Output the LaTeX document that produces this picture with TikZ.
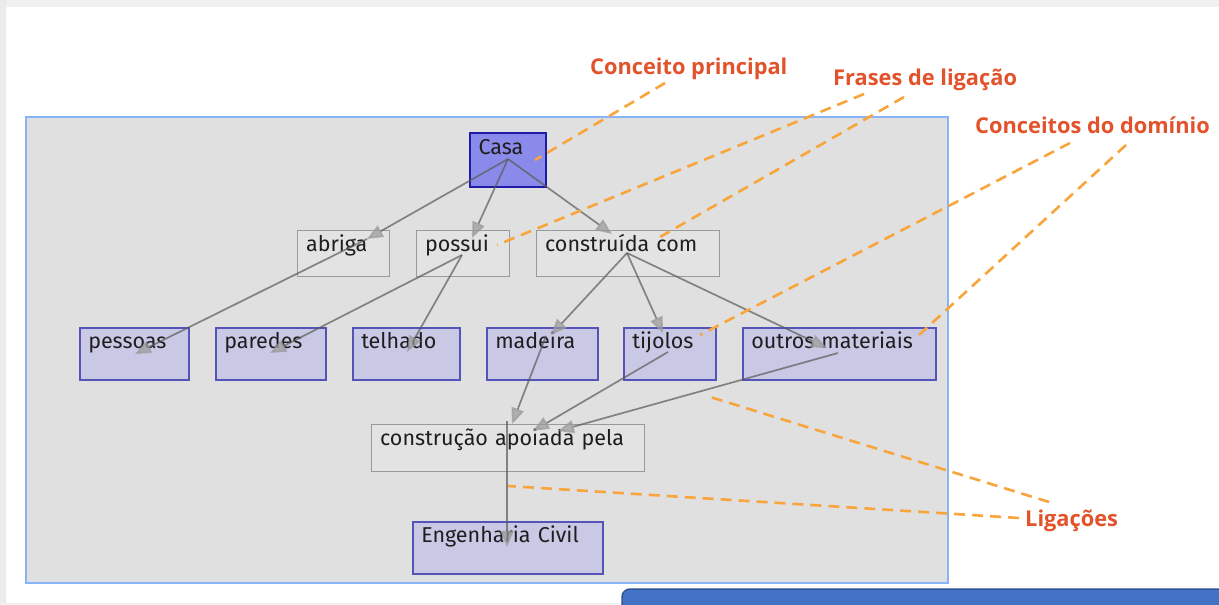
\documentclass[tikz,border=0pt]{standalone}
\usepackage{fontspec}
\usetikzlibrary{arrows.meta,calc}
\newfontfamily\nodefont{Fira Sans}
\newfontfamily\lblfont{Open Sans}
\definecolor{panelfill}{HTML}{E0E0E0}
\definecolor{panelborder}{HTML}{8AB4F8}
\definecolor{mainfill}{HTML}{8A8AEA}
\definecolor{mainborder}{HTML}{1C1CA8}
\definecolor{concfill}{HTML}{C9C9E6}
\definecolor{concborder}{HTML}{5454B8}
\definecolor{linkborder}{HTML}{9A9A9A}
\definecolor{linkfill}{HTML}{E3E3E3}
\definecolor{textcol}{HTML}{1E1E1E}
\definecolor{linecol}{HTML}{5A5A5A}
\definecolor{tipcol}{HTML}{9A9A9A}
\definecolor{orangedash}{HTML}{F8A53C}
\definecolor{lblcol}{HTML}{E2522B}
\definecolor{bluebar}{HTML}{4472C4}
\definecolor{bluebarborder}{HTML}{2F5597}
\tikzset{
  base/.style={anchor=north west, inner xsep=8.5pt, inner ysep=0pt, align=left,
    font=\nodefont\fontsize{21.5}{24}\selectfont, text=textcol, text height=21pt},
  mainbox/.style={base, draw=mainborder, fill=mainfill, line width=2pt},
  concbox/.style={base, draw=concborder, fill=concfill, line width=1.5pt},
  linkbox/.style={base, draw=linkborder, fill=linkfill, line width=1.2pt},
  conn/.style={draw=linecol, line width=1.7pt, opacity=0.7,
    -{Triangle[length=16pt,width=13pt,fill=tipcol,color=tipcol]}},
  callout/.style={draw=orangedash, line width=2.6pt, dash pattern=on 11pt off 7pt},
  lbl/.style={anchor=base west, inner sep=0pt, text=lblcol,
    font=\lblfont\bfseries\fontsize{21.8}{25}\selectfont},
}
\begin{document}
\begin{tikzpicture}[x=1pt,y=-1pt]
\useasboundingbox (0,0) rectangle (1219,605);
% page background
\fill[white] (0,0) rectangle (1219,605);
\fill[black!6] (0,0) rectangle (1219,7);
\fill[black!8] (0,0) rectangle (6,605);
\fill[black!5] (0,603) rectangle (1219,605);
% panel
\draw[fill=panelfill, draw=panelborder, line width=1.5pt] (26,117) rectangle (948,583);
% blue bar
\draw[fill=bluebar, draw=bluebarborder, line width=1.5pt, rounded corners=8pt]
  (622,589) rectangle (1235,630);

% nodes
\node[mainbox, text width=59pt, text depth=33pt] (casa) at (469,132) {Casa};
\node[linkbox, text width=75pt, text depth=25pt] (abriga) at (297,230) {abriga};
\node[linkbox, text width=76pt, text depth=25pt] (possui) at (416,230) {possui};
\node[linkbox, text width=166pt, text depth=25pt] (constr) at (536,230) {construída com};
\node[concbox, text width=92pt, text depth=31pt] (pessoas) at (79,327) {pessoas};
\node[concbox, text width=93pt, text depth=31pt] (paredes) at (215,327) {paredes};
\node[concbox, text width=90pt, text depth=31pt] (telhado) at (352,327) {telhado};
\node[concbox, text width=94pt, text depth=31pt] (madeira) at (486,327) {madeira};
\node[concbox, text width=75pt, text depth=31pt] (tijolos) at (623,327) {tijolos};
\node[concbox, text width=176pt, text depth=31pt] (outros) at (742,327) {outros materiais};
\node[linkbox, text width=256pt, text depth=26pt] (apoiada) at (371,424) {construção apoiada pela};
\node[concbox, text width=173pt, text depth=31pt] (eng) at (412,521) {Engenharia Civil};

% anchor points of the connections
\coordinate (pCasa) at ($(casa.north west)+(39,27)$);
\coordinate (pAbriga) at ($(abriga.north west)+(70,9)$);
\coordinate (pPossuiIn) at ($(possui.north west)+(56,8)$);
\coordinate (pPossui) at ($(possui.north west)+(46,25)$);
\coordinate (pConstrIn) at ($(constr.north west)+(76,4)$);
\coordinate (pConstr) at ($(constr.north west)+(91,23)$);
\coordinate (pPessoas) at ($(pessoas.north west)+(56,27)$);
\coordinate (pParedes) at ($(paredes.north west)+(55,26)$);
\coordinate (pTelhado) at ($(telhado.north west)+(55,25)$);
\coordinate (pMadeiraIn) at ($(madeira.north west)+(65,8)$);
\coordinate (pMadeira) at ($(madeira.north west)+(60,9)$);
\coordinate (pTijolosIn) at ($(tijolos.north west)+(40,6)$);
\coordinate (pTijolos) at ($(tijolos.north west)+(45,25)$);
\coordinate (pOutrosIn) at ($(outros.north west)+(85,21)$);
\coordinate (pOutros) at ($(outros.north west)+(96,26)$);
\coordinate (pApoiadaA) at ($(apoiada.north west)+(141,0)$);
\coordinate (pApoiadaB) at ($(apoiada.north west)+(162,7)$);
\coordinate (pApoiadaC) at ($(apoiada.north west)+(187,7)$);
\coordinate (pApoiada) at ($(apoiada.north west)+(136,-3)$);
\coordinate (pEng) at ($(eng.north west)+(95,26)$);

% connections
\draw[conn] (pCasa) -- (pAbriga);
\draw[conn] (pCasa) -- (pPossuiIn);
\draw[conn] (pCasa) -- (pConstrIn);
\draw[conn] (pAbriga) -- (pPessoas);
\draw[conn] (pPossui) -- (pParedes);
\draw[conn] (pPossui) -- (pTelhado);
\draw[conn] (pConstr) -- (pMadeiraIn);
\draw[conn] (pConstr) -- (pTijolosIn);
\draw[conn] (pConstr) -- (pOutrosIn);
\draw[conn] (pMadeira) -- (pApoiadaA);
\draw[conn] (pTijolos) -- (pApoiadaB);
\draw[conn] (pOutros) -- (pApoiadaC);
\draw[conn] (pApoiada) -- (pEng);

% callout labels
\node[lbl] (lPrinc) at (590,74) {Conceito principal};
\node[lbl] (lFrases) at (833,85) {Frases de ligação};
\node[lbl] (lDom) at (975,133) {Conceitos do domínio};
\node[lbl] (lLig) at (1025,526) {Ligações};

\coordinate (cPrinc) at ($(casa.north west)+(66,28)$);
\coordinate (cFrA) at ($(possui.north west)+(81,15)$);
\coordinate (cFrB) at ($(constr.north west)+(124,7)$);
\coordinate (cDomA) at ($(tijolos.north west)+(77,8)$);
\coordinate (cDomB) at ($(outros.north west)+(177,8)$);
\coordinate (cLigA) at (707,396);
\coordinate (cLigB) at (508,486);

\draw[callout] (665,83) -- (cPrinc);
\draw[callout] (864,94) -- (cFrA);
\draw[callout] (904,97) -- (cFrB);
\draw[callout] (1070,143) -- (cDomA);
\draw[callout] (1126,145) -- (cDomB);
\draw[callout] (1049,502) -- (cLigA);
\draw[callout] (1019,518) -- (cLigB);
\end{tikzpicture}
\end{document}
